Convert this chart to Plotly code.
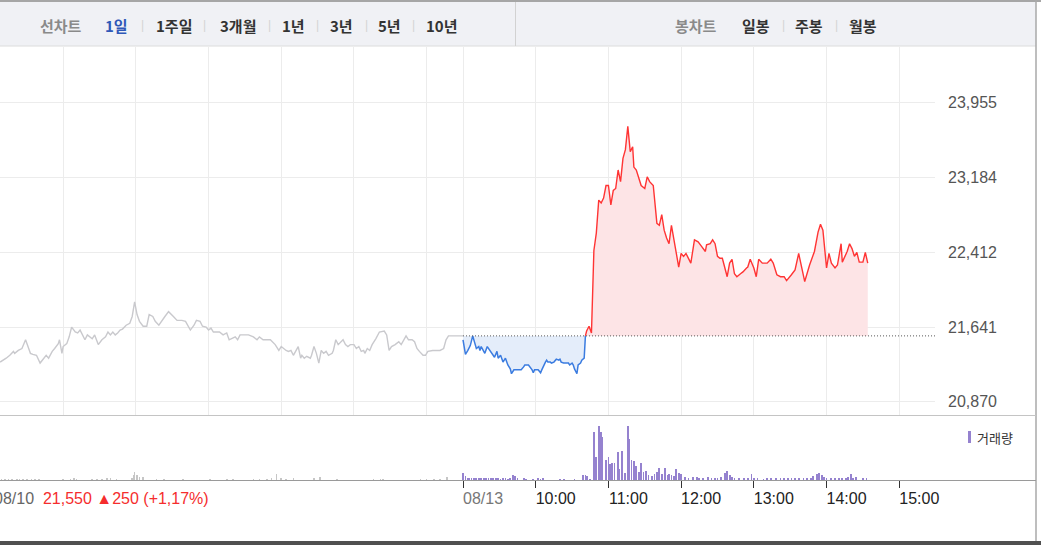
import plotly.graph_objects as go

# ---------------- data ----------------
prev_date = "08/10"
today_date = "08/13"
prev_close = 21550
change_abs = 250
change_pct = "+1,17%"
session_open = "09:00"
session_close = "15:30"

price_ticks = [20870, 21641, 22412, 23184, 23955]
hour_labels = ["10:00", "11:00", "12:00", "13:00", "14:00", "15:00"]

# previous session (minutes after 09:00) and prices
prev_minutes = [8, 11, 13, 16, 19, 20, 23, 26, 28, 29,
                31, 33, 35, 38, 41, 44, 46, 48, 51, 53,
                56, 57, 59, 60, 63, 65, 67, 70, 72, 74,
                76, 78, 80, 82, 84, 86, 89, 92, 95, 97,
                99, 101, 103, 105, 107, 109, 112, 115, 117, 119,
                121, 123, 126, 129, 131, 134, 136, 139, 141, 144,
                147, 149, 151, 154, 158, 161, 163, 165, 168, 170,
                173, 175, 178, 180, 182, 184, 187, 189, 192, 195,
                197, 199, 202, 204, 206, 209, 213, 217, 220, 222,
                225, 228, 231, 235, 238, 240, 242, 244, 246, 248,
                250, 252, 254, 256, 257, 259, 261, 264, 265, 267,
                269, 271, 272, 273, 275, 277, 279, 282, 283, 285,
                287, 289, 291, 293, 295, 297, 300, 302, 304, 306,
                308, 309, 311, 313, 315, 318, 321, 325, 327, 329,
                331, 334, 337, 339, 341, 343, 345, 348, 350, 352,
                354, 357, 359, 361, 365, 371, 374, 376, 378, 382,
                390]
prev_prices = [21280, 21300, 21320, 21350, 21390, 21370, 21400, 21420, 21490, 21510,
               21440, 21370, 21360, 21350, 21270, 21320, 21350, 21320, 21390, 21420,
               21470, 21510, 21370, 21440, 21470, 21540, 21640, 21590, 21580, 21610,
               21560, 21510, 21560, 21540, 21520, 21560, 21460, 21510, 21540, 21590,
               21560, 21590, 21560, 21580, 21610, 21620, 21660, 21680, 21750, 21900,
               21770, 21700, 21650, 21650, 21770, 21750, 21700, 21660, 21700, 21750,
               21800, 21770, 21750, 21710, 21710, 21700, 21660, 21610, 21660, 21710,
               21700, 21650, 21640, 21610, 21630, 21590, 21590, 21590, 21560, 21580,
               21510, 21520, 21540, 21510, 21560, 21560, 21560, 21540, 21510, 21540,
               21510, 21510, 21510, 21460, 21400, 21440, 21420, 21400, 21390, 21400,
               21350, 21390, 21440, 21320, 21350, 21320, 21340, 21320, 21350, 21440,
               21370, 21270, 21340, 21400, 21370, 21390, 21350, 21370, 21400, 21510,
               21460, 21490, 21510, 21460, 21440, 21460, 21460, 21420, 21440, 21390,
               21400, 21370, 21420, 21400, 21460, 21520, 21590, 21600, 21560, 21400,
               21440, 21460, 21490, 21460, 21510, 21550, 21510, 21510, 21490, 21420,
               21390, 21350, 21350, 21390, 21400, 21400, 21420, 21510, 21550, 21550,
               21550]

# today's session (minutes after 09:00) and prices
today_minutes = [0, 2, 4, 6, 8, 10, 11, 13, 14, 15,
                 17, 18, 20, 21, 22, 24, 25, 26, 28, 29,
                 31, 32, 33, 35, 36, 37, 39, 40, 42, 44,
                 48, 50, 51, 54, 57, 58, 59, 62, 64, 65,
                 66, 68, 69, 70, 72, 73, 75, 76, 77, 79,
                 80, 81, 83, 87, 88, 90, 91, 92, 94, 95,
                 97, 98, 99, 100, 101, 102, 104, 106, 108, 110,
                 112, 114, 116, 118, 120, 122, 124, 126, 128, 130,
                 132, 134, 136, 138, 140, 141, 143, 145, 147, 150,
                 152, 154, 157, 160, 162, 164, 166, 168, 170, 172,
                 174, 176, 178, 180, 182, 184, 186, 188, 191, 194,
                 197, 200, 201, 204, 206, 208, 210, 212, 214, 218,
                 220, 222, 224, 226, 229, 231, 234, 235, 237, 240,
                 242, 244, 247, 251, 254, 256, 259, 262, 265, 267,
                 271, 274, 277, 282, 286, 290, 293, 295, 297, 300,
                 302, 304, 307, 309, 312, 313, 317, 319, 321, 323,
                 325, 327, 330, 332, 334]
today_prices = [21510, 21360, 21400, 21450, 21550, 21470, 21420, 21440, 21400, 21440,
                21400, 21370, 21440, 21420, 21400, 21370, 21350, 21330, 21390, 21320,
                21350, 21300, 21280, 21320, 21280, 21250, 21210, 21160, 21200, 21200,
                21200, 21230, 21250, 21250, 21200, 21170, 21200, 21200, 21170, 21200,
                21230, 21280, 21300, 21280, 21280, 21270, 21280, 21300, 21310, 21300,
                21310, 21280, 21270, 21270, 21250, 21270, 21250, 21210, 21160, 21250,
                21270, 21300, 21310, 21320, 21550, 21600, 21650, 21580, 22430, 22610,
                22950, 22920, 22970, 23100, 23100, 22900, 23050, 23070, 23260, 23140,
                23380, 23470, 23710, 23450, 23500, 23290, 23260, 23190, 23100, 23070,
                23190, 23140, 23100, 22710, 22690, 22800, 22640, 22560, 22500, 22690,
                22540, 22430, 22260, 22400, 22370, 22400, 22350, 22300, 22540, 22520,
                22470, 22420, 22490, 22500, 22540, 22500, 22370, 22350, 22350, 22160,
                22300, 22340, 22190, 22160, 22190, 22210, 22250, 22260, 22340, 22250,
                22160, 22340, 22300, 22300, 22340, 22300, 22180, 22160, 22160, 22120,
                22180, 22230, 22400, 22110, 22280, 22420, 22620, 22700, 22640, 22250,
                22400, 22300, 22250, 22280, 22500, 22310, 22420, 22500, 22450, 22370,
                22410, 22310, 22310, 22410, 22300]

# volumes
prev_vol_minutes = [9, 12, 15, 18, 22, 24, 27, 30, 34, 37,
                    40, 60, 66, 69, 71, 84, 88, 92, 96, 99,
                    104, 117, 118, 119, 121, 123, 126, 137, 143, 159,
                    181, 195, 200, 217, 222, 228, 232, 236, 240, 244,
                    250, 267, 272, 286, 316, 322, 324, 355, 360, 366,
                    371, 377]
prev_volumes = [1000, 1000, 1000, 1000, 1000, 1000, 1000, 1000, 1000, 1000,
                1000, 1500, 1500, 2000, 1500, 1500, 1500, 1500, 2000, 2000,
                1000, 2500, 5000, 8000, 5000, 3000, 3000, 1000, 1000, 1000,
                1000, 1000, 1000, 1500, 1500, 1500, 2000, 6000, 2000, 1500,
                2000, 2000, 3000, 1000, 1000, 1000, 1500, 1000, 1000, 1000,
                1500, 3000]

today_vol_minutes = [0, 2, 4, 5, 7, 9, 11, 13, 15, 17,
                     19, 21, 23, 25, 27, 29, 31, 33, 35, 37,
                     39, 41, 43, 45, 50, 52, 58, 62, 64, 66,
                     80, 83, 92, 99, 101, 102, 105, 108, 110, 112,
                     114, 115, 118, 120, 121, 123, 125, 128, 129, 131,
                     134, 136, 137, 139, 141, 143, 145, 147, 149, 151,
                     153, 156, 158, 160, 162, 164, 167, 169, 170, 172,
                     174, 176, 178, 180, 183, 186, 190, 193, 195, 198,
                     202, 205, 208, 210, 213, 216, 218, 220, 222, 224,
                     228, 232, 235, 238, 240, 243, 248, 251, 254, 258,
                     262, 265, 268, 271, 274, 277, 281, 284, 287, 289,
                     292, 294, 296, 298, 300, 304, 307, 310, 313, 316,
                     318, 320, 322, 324, 330, 333]
today_volumes = [6700, 3700, 2500, 2000, 2500, 2000, 2000, 2500, 2000, 2000,
                 2500, 2000, 2500, 2000, 2000, 2000, 1500, 2500, 2000, 1500,
                 2000, 5000, 4500, 2500, 2000, 1500, 1500, 2000, 1500, 2000,
                 1500, 1500, 1500, 5000, 5000, 4500, 1500, 48000, 23000, 54000,
                 48000, 43000, 20000, 23000, 16000, 17000, 17000, 28000, 11000, 29000,
                 7000, 54000, 41000, 20000, 19000, 14000, 8000, 17000, 8000, 9000,
                 5000, 4000, 6000, 8000, 12000, 6000, 12000, 5000, 6000, 5000,
                 4000, 11000, 7000, 6000, 3000, 2000, 3000, 3000, 2000, 2000,
                 3000, 2000, 2000, 2500, 3000, 7000, 9000, 5000, 3000, 2000,
                 2000, 2000, 2000, 6000, 2000, 2000, 1500, 2500, 2000, 2000,
                 2500, 2000, 2000, 2500, 2000, 2000, 2000, 2500, 2000, 4000,
                 6000, 7000, 5000, 3000, 2000, 2000, 2500, 2000, 2000, 2500,
                 3000, 6000, 2000, 3000, 2000, 2000]

# ---------------- derived ----------------
def to_min(hhmm):
    h, m = hhmm.split(":")
    return int(h) * 60 + int(m)

session_len = to_min(session_close) - to_min(session_open)   # 390
prev_x = [m - session_len for m in prev_minutes]
prev_vol_x = [m - session_len for m in prev_vol_minutes]
hour_vals = [to_min(h) - to_min(session_open) for h in hour_labels]
today_tick_vals = [0] + hour_vals
prev_grid_vals = [v - session_len for v in hour_vals]

last_below = max(i for i, p in enumerate(today_prices) if p < prev_close)
blue_x = today_minutes[:last_below + 2]
blue_y = today_prices[:last_below + 2]
red_x = today_minutes[last_below + 1:]
red_y = today_prices[last_below + 1:]

# ---------------- layout geometry ----------------
W, H = 1041, 545
ML, MR, MT, MB = 0, 106, 47, 65
PW, PH = W - ML - MR, H - MT - MB


def px(x):
    return (x - ML) / PW


def py(y):
    return (H - MB - y) / PH


NUM_FONT = "Liberation Sans, Arial, sans-serif"
KR_FONT = "Noto Sans CJK KR, sans-serif"

GRAY_LINE = "#c9c9cd"
BLUE = "#3b7ce0"
BLUE_FILL = "#e4edfa"
RED = "#ff3434"
RED_FILL = "#fde4e6"
PURPLE = "#9582cf"

fig = go.Figure()

# volume bars
fig.add_trace(go.Bar(x=prev_vol_x, y=prev_volumes, width=1.3, marker_color="#c6c6c6",
                     marker_line_width=0, xaxis="x2", yaxis="y2", hoverinfo="skip"))
fig.add_trace(go.Bar(x=today_vol_minutes, y=today_volumes, width=1.5, marker_color=PURPLE,
                     marker_line_width=0, xaxis="x2", yaxis="y2", hoverinfo="skip"))

# blue (below previous close) area
fig.add_trace(go.Scatter(x=[blue_x[0], blue_x[-1]], y=[prev_close, prev_close], mode="lines",
                         line=dict(width=0, color="rgba(0,0,0,0)"), hoverinfo="skip"))
fig.add_trace(go.Scatter(x=blue_x, y=blue_y, mode="lines", fill="tonexty", fillcolor=BLUE_FILL,
                         line=dict(color=BLUE, width=1.5), hoverinfo="skip"))
# red (above previous close) area
fig.add_trace(go.Scatter(x=[red_x[0], red_x[-1]], y=[prev_close, prev_close], mode="lines",
                         line=dict(width=0, color="rgba(0,0,0,0)"), hoverinfo="skip"))
fig.add_trace(go.Scatter(x=red_x, y=red_y, mode="lines", fill="tonexty", fillcolor=RED_FILL,
                         line=dict(color=RED, width=1.4), hoverinfo="skip"))
# previous session
fig.add_trace(go.Scatter(x=prev_x, y=prev_prices, mode="lines",
                         line=dict(color=GRAY_LINE, width=1.4), hoverinfo="skip"))
# previous close dotted line across today's session
fig.add_trace(go.Scatter(x=[0, session_len], y=[prev_close, prev_close], mode="lines",
                         line=dict(color="#555555", width=1, dash="1px,2px"), hoverinfo="skip"))

x_range = [-382.1, 389.5]

fig.update_layout(
    width=W, height=H,
    margin=dict(l=ML, r=MR, t=MT, b=MB, pad=0),
    paper_bgcolor="white", plot_bgcolor="white",
    showlegend=False, bargap=0, hovermode=False,
    xaxis=dict(domain=[0, 1], range=x_range, anchor="y",
               tickmode="array", tickvals=prev_grid_vals + today_tick_vals,
               showticklabels=False, ticks="", showgrid=True, gridcolor="#ececec",
               gridwidth=1, zeroline=False, showline=False, fixedrange=True),
    yaxis=dict(domain=[0.15, 1], range=[20734, 24528], side="right", anchor="x",
               tickmode="array", tickvals=price_ticks,
               ticktext=[f"{v:,}" for v in price_ticks],
               showgrid=True, gridcolor="#ececec", zeroline=False, showline=False,
               ticks="", ticklabelstandoff=12,
               tickfont=dict(family=NUM_FONT, size=16, color="#555555"), automargin=False),
    xaxis2=dict(domain=[0, 1], range=x_range, anchor="y2", matches="x",
                tickmode="array", tickvals=today_tick_vals,
                ticktext=[f"<span style='color:#777777'>{today_date}</span>"] + hour_labels,
                ticks="outside", ticklen=7, tickwidth=1, tickcolor="#333333",
                ticklabelshift=20, ticklabelstandoff=-3,
                tickfont=dict(family=NUM_FONT, size=16, color="#222222"),
                showgrid=False, zeroline=False, showline=False, automargin=False),
    yaxis2=dict(domain=[0, 0.143], range=[0, 62000], anchor="x2",
                showticklabels=False, showgrid=False, zeroline=False, ticks="",
                automargin=False),
)

shapes = [
    # top tab bar
    dict(type="rect", xref="paper", yref="paper", x0=px(0), x1=px(1036), y0=py(46), y1=py(0),
         fillcolor="#f0f1f5", line=dict(width=0), layer="below"),
    dict(type="line", xref="paper", yref="paper", x0=px(0), x1=px(1041), y0=py(1), y1=py(1),
         line=dict(color="#a6a6a6", width=2)),
    dict(type="line", xref="paper", yref="paper", x0=px(0), x1=px(1036), y0=py(46), y1=py(46),
         line=dict(color="#dcdcdc", width=1)),
    dict(type="line", xref="paper", yref="paper", x0=px(515.5), x1=px(515.5), y0=py(2), y1=py(46),
         line=dict(color="#d2d2d2", width=1)),
    # right border
    dict(type="line", xref="paper", yref="paper", x0=px(1036), x1=px(1036), y0=py(0), y1=py(541),
         line=dict(color="#a8a8a8", width=1.5)),
    # panel separator and volume baseline
    dict(type="line", xref="paper", yref="paper", x0=px(0), x1=px(1036), y0=py(415.5), y1=py(415.5),
         line=dict(color="#c4c4c4", width=1.2)),
    dict(type="line", xref="paper", yref="paper", x0=px(0), x1=px(1036), y0=py(480.5), y1=py(480.5),
         line=dict(color="#9a9a9a", width=1.2)),
    # bottom dark band
    dict(type="rect", xref="paper", yref="paper", x0=px(0), x1=px(1041), y0=py(545), y1=py(541),
         fillcolor="#505050", line=dict(width=0)),
    # volume legend swatch
    dict(type="rect", xref="paper", yref="paper", x0=px(968), x1=px(971), y0=py(443), y1=py(431),
         fillcolor=PURPLE, line=dict(width=0)),
]
fig.update_layout(shapes=shapes)

ann = []


def txt(x, y, s, color="#333333", size=15, family=KR_FONT, anchor="center", bold=False):
    t = f"<b>{s}</b>" if bold else s
    ann.append(dict(xref="paper", yref="paper", x=px(x), y=py(y), text=t, showarrow=False,
                    xanchor=anchor, yanchor="middle",
                    font=dict(family=family, size=size, color=color)))


# top tab labels
txt(61, 25, "선차트", color="#8a8a8a", bold=True)
txt(116.5, 25, "1일", color="#2f58b8", bold=True)
txt(173.5, 25, "1주일", bold=True)
txt(237.5, 25, "3개월", bold=True)
txt(293.5, 25, "1년", bold=True)
txt(341.5, 25, "3년", bold=True)
txt(389.5, 25, "5년", bold=True)
txt(441.5, 25, "10년", bold=True)
for sx in [142, 204.5, 269.5, 317.5, 366, 413.5, 783, 836]:
    txt(sx, 25, "|", color="#d4d4d4", size=12, family=NUM_FONT)
txt(696, 25, "봉차트", color="#8a8a8a", bold=True)
txt(756, 25, "일봉", bold=True)
txt(808.5, 25, "주봉", bold=True)
txt(863, 25, "월봉", bold=True)

# volume legend label
txt(975, 437, "거래량", color="#333333", size=13, anchor="left")

# previous session label with previous close and change
nb = "&nbsp;"
ann.append(dict(xref="paper", yref="paper", x=px(-8.5), y=py(498),
                text=(f"<span style='color:#666666'>{prev_date}</span>{nb}{nb}"
                      f"<span style='color:#f52d2d'>{prev_close:,}{nb}▲{change_abs}{nb}({change_pct})</span>"),
                showarrow=False, xanchor="left", yanchor="middle",
                font=dict(family=NUM_FONT, size=16)))

fig.update_layout(annotations=ann)

fig.write_html("out.html",
               config={"displayModeBar": False, "staticPlot": True},
               post_script="document.body.style.margin='0';document.body.style.overflow='hidden';")
